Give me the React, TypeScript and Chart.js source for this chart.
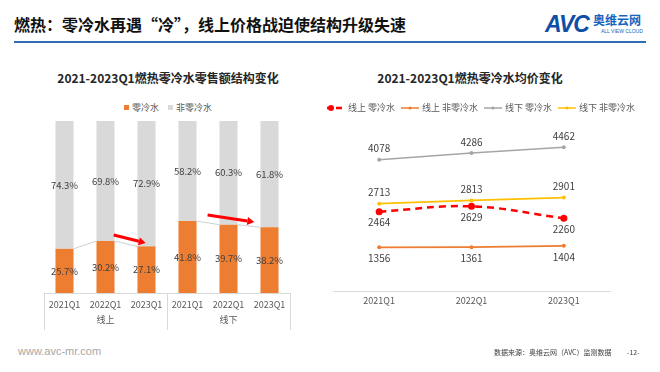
import React, { useEffect, useRef } from 'react';
import { Chart, registerables } from 'chart.js';

Chart.register(...registerables);

const FONT = '"Noto Sans CJK SC", "Noto Sans", sans-serif';

// ---- Left chart data (share of retail sales, %) ----
const shareCategories = ['2021Q1', '2022Q1', '2023Q1', '2021Q1', '2022Q1', '2023Q1'];
const shareGroups = ['线上', '线下'];
const shareGroupSizes = [3, 3];
const zeroColdShare = [25.7, 30.2, 27.1, 41.8, 39.7, 38.2];
const nonZeroColdShare = [74.3, 69.8, 72.9, 58.2, 60.3, 61.8];
// arrows in data units: [fromIndex, fromValue, toIndex, toValue]
const shareArrows = [
  [1.2, 33.7, 1.98, 29.1],
  [3.49, 45.3, 4.63, 41.3],
];

// ---- Right chart data (average price) ----
const priceCategories = ['2021Q1', '2022Q1', '2023Q1'];
const onlineZeroPrice = [2464, 2629, 2260];
const onlineNonZeroPrice = [1356, 1361, 1404];
const offlineZeroPrice = [4078, 4286, 4462];
const offlineNonZeroPrice = [2713, 2813, 2901];

const ORANGE = '#ED7D31';
const GRAY_BAR = '#D9D9D9';
const RED = '#FF0000';
const GRAY_LINE = '#A5A5A5';
const YELLOW = '#FFC000';

function ShareChart() {
  const ref = useRef<HTMLCanvasElement>(null);
  useEffect(() => {
    const canvas = ref.current;
    if (!canvas) return;
    const labels = shareCategories.map((c, i) => {
      let start = 0;
      for (let g = 0; g < shareGroupSizes.length; g++) {
        const mid = start + Math.floor(shareGroupSizes[g] / 2);
        if (i === mid) return [c, shareGroups[g]];
        start += shareGroupSizes[g];
      }
      return [c, ''];
    });
    const decor = {
      id: 'shareDecor',
      afterDatasetsDraw(chart: any) {
        const ctx = chart.ctx;
        const xs = chart.scales.x;
        const ys = chart.scales.y;
        const area = chart.chartArea;
        ctx.save();
        // series lines between orange bars inside each group
        const meta0 = chart.getDatasetMeta(0);
        const boundaries: number[] = [];
        let acc = 0;
        shareGroupSizes.forEach((s) => { acc += s; boundaries.push(acc - 1); });
        ctx.strokeStyle = '#D0D0D0';
        ctx.lineWidth = 1;
        for (let i = 0; i < meta0.data.length - 1; i++) {
          if (boundaries.includes(i)) continue;
          const a = meta0.data[i] as any;
          const b = meta0.data[i + 1] as any;
          ctx.beginPath();
          ctx.moveTo(a.x + a.width / 2, a.y);
          ctx.lineTo(b.x - b.width / 2, b.y);
          ctx.stroke();
        }
        // data labels
        ctx.font = `9.5px ${FONT}`;
        ctx.fillStyle = '#404040';
        ctx.textAlign = 'center';
        ctx.textBaseline = 'middle';
        chart.data.datasets.forEach((ds: any, di: number) => {
          const meta = chart.getDatasetMeta(di);
          meta.data.forEach((el: any, i: number) => {
            const v = ds.data[i];
            ctx.fillText(v.toFixed(1) + '%', el.x, (el.y + el.base) / 2);
          });
        });
        // arrows
        shareArrows.forEach(([fi, fv, ti, tv]) => {
          const x1 = xs.getPixelForValue(fi);
          const y1 = ys.getPixelForValue(fv);
          const x2 = xs.getPixelForValue(ti);
          const y2 = ys.getPixelForValue(tv);
          const ang = Math.atan2(y2 - y1, x2 - x1);
          const head = 7;
          const bx = x2 - head * Math.cos(ang);
          const by = y2 - head * Math.sin(ang);
          ctx.strokeStyle = RED;
          ctx.fillStyle = RED;
          ctx.lineWidth = 3;
          ctx.beginPath();
          ctx.moveTo(x1, y1);
          ctx.lineTo(bx, by);
          ctx.stroke();
          ctx.beginPath();
          ctx.moveTo(x2, y2);
          ctx.lineTo(bx + 4 * Math.sin(ang), by - 4 * Math.cos(ang));
          ctx.lineTo(bx - 4 * Math.sin(ang), by + 4 * Math.cos(ang));
          ctx.closePath();
          ctx.fill();
        });
        // group separators below axis
        ctx.strokeStyle = '#D9D9D9';
        ctx.lineWidth = 1;
        const sepX: number[] = [area.left];
        let k = 0;
        shareGroupSizes.forEach((s, g) => {
          k += s;
          if (g < shareGroupSizes.length - 1) {
            sepX.push((xs.getPixelForTick(k - 1) + xs.getPixelForTick(k)) / 2);
          }
        });
        sepX.push(area.right);
        sepX.forEach((sx) => {
          const px = Math.round(sx) + 0.5;
          ctx.beginPath();
          ctx.moveTo(px, area.bottom);
          ctx.lineTo(px, area.bottom + 37);
          ctx.stroke();
        });
        ctx.restore();
      },
    };
    const chart = new Chart(canvas, {
      type: 'bar',
      data: {
        labels,
        datasets: [
          { label: '零冷水', data: zeroColdShare, backgroundColor: ORANGE, barPercentage: 0.44, categoryPercentage: 1 },
          { label: '非零冷水', data: nonZeroColdShare, backgroundColor: GRAY_BAR, barPercentage: 0.44, categoryPercentage: 1 },
        ],
      },
      options: {
        animation: false,
        responsive: false,
        layout: { padding: { left: 44, right: 40, top: 11, bottom: 0 } },
        plugins: { legend: { display: false }, tooltip: { enabled: false } },
        scales: {
          x: {
            stacked: true,
            grid: { display: false },
            border: { display: true, color: '#D9D9D9' },
            ticks: { font: { family: FONT, size: 9, lineHeight: 1.7 }, color: '#595959', padding: -4, maxRotation: 0, autoSkip: false },
            afterFit: (s: any) => { s.height = 47; },
          },
          y: { stacked: true, min: 0, max: 100, display: false },
        },
      },
      plugins: [decor],
    });
    return () => chart.destroy();
  }, []);
  return <canvas ref={ref} width={330} height={230} style={{ position: 'absolute', left: 0, top: 110, width: 330, height: 230 }} />;
}

function PriceChart() {
  const ref = useRef<HTMLCanvasElement>(null);
  useEffect(() => {
    const canvas = ref.current;
    if (!canvas) return;
    const labelPos = ['below', 'below', 'above', 'above'];
    const decor = {
      id: 'priceLabels',
      afterDatasetsDraw(chart: any) {
        const ctx = chart.ctx;
        ctx.save();
        ctx.font = `10px ${FONT}`;
        ctx.fillStyle = '#404040';
        ctx.textAlign = 'center';
        ctx.textBaseline = 'middle';
        chart.data.datasets.forEach((ds: any, di: number) => {
          const meta = chart.getDatasetMeta(di);
          meta.data.forEach((el: any, i: number) => {
            const dy = labelPos[di] === 'above' ? -11 : 11;
            ctx.fillText(String(ds.data[i]), el.x, el.y + dy);
          });
        });
        ctx.restore();
      },
    };
    const chart = new Chart(canvas, {
      type: 'line',
      data: {
        labels: priceCategories,
        datasets: [
          { label: '线上 零冷水', data: onlineZeroPrice, borderColor: RED, backgroundColor: RED, borderWidth: 2.5, borderDash: [7, 5], tension: 0.4, pointRadius: 3.5, pointBackgroundColor: RED, pointBorderWidth: 0 },
          { label: '线上 非零冷水', data: onlineNonZeroPrice, borderColor: ORANGE, backgroundColor: ORANGE, borderWidth: 1.8, pointRadius: 2, pointBorderWidth: 0 },
          { label: '线下 零冷水', data: offlineZeroPrice, borderColor: GRAY_LINE, backgroundColor: GRAY_LINE, borderWidth: 1.5, pointRadius: 2, pointBorderWidth: 0 },
          { label: '线下 非零冷水', data: offlineNonZeroPrice, borderColor: YELLOW, backgroundColor: YELLOW, borderWidth: 1.8, pointRadius: 2, pointBorderWidth: 0 },
        ],
      },
      options: {
        animation: false,
        responsive: false,
        layout: { padding: { left: 13, right: 50, top: 20, bottom: 0 } },
        plugins: { legend: { display: false }, tooltip: { enabled: false } },
        scales: {
          x: {
            offset: true,
            grid: { display: false },
            border: { display: true, color: '#D9D9D9' },
            ticks: { font: { family: FONT, size: 9 }, color: '#595959', padding: -4 },
            afterFit: (s: any) => { s.height = 49; },
          },
          y: { min: 0, max: 5000, display: false },
        },
      },
      plugins: [decor],
    });
    return () => chart.destroy();
  }, []);
  return <canvas ref={ref} width={340} height={230} style={{ position: 'absolute', left: 320, top: 110, width: 340, height: 230 }} />;
}

function LineKey({ color, dashed, big }: { color: string; dashed?: boolean; big?: boolean }) {
  return (
    <svg width={20} height={8} style={{ display: 'inline-block', verticalAlign: 'middle', marginRight: 2 }}>
      <line x1={1} y1={4} x2={19} y2={4} stroke={color} strokeWidth={dashed ? 2.5 : 1.5} strokeDasharray={dashed ? '6 3' : undefined} />
      <circle cx={dashed ? 5 : 10} cy={4} r={big ? 3 : 1.6} fill={color} />
    </svg>
  );
}

export default function App() {
  useEffect(() => {
    document.body.style.margin = '0';
  }, []);
  const abs = (s: React.CSSProperties): React.CSSProperties => ({ position: 'absolute', ...s });
  const legendText: React.CSSProperties = { fontSize: 9, color: '#595959', verticalAlign: 'middle' };
  return (
    <div style={{ position: 'fixed', left: 0, top: 0, width: 660, height: 372, background: '#fff', overflow: 'hidden', fontFamily: FONT }}>
      <div style={abs({ left: 14, top: 13, fontSize: 16, fontWeight: 700, color: '#111', lineHeight: '22px', whiteSpace: 'nowrap' })}>
        燃热：零冷水再遇“冷”，线上价格战迫使结构升级失速
      </div>
      <div style={abs({ left: 545, top: 11, whiteSpace: 'nowrap' })}>
        <span style={{ fontFamily: '"Liberation Sans", sans-serif', fontWeight: 900, fontStyle: 'italic', fontSize: 23, color: '#0E4EA8', letterSpacing: -1 }}>AVC</span>
      </div>
      <div style={abs({ left: 593, top: 13, fontSize: 12, fontWeight: 700, color: '#1565C0', lineHeight: '14px', whiteSpace: 'nowrap' })}>奥维云网</div>
      <div style={abs({ left: 601, top: 28, fontSize: 5, color: '#1565C0', lineHeight: '6px', whiteSpace: 'nowrap', fontFamily: '"Liberation Sans", sans-serif' })}>ALL VIEW CLOUD</div>
      <div style={abs({ left: 14, top: 41, width: 632, height: 2, background: '#2E6DB4' })} />

      <div style={abs({ left: 0, top: 69, width: 336, textAlign: 'center', fontSize: 12, fontWeight: 700, color: '#262626', lineHeight: '18px' })}>
        2021-2023Q1燃热零冷水零售额结构变化
      </div>
      <div style={abs({ left: 0, top: 99, width: 336, textAlign: 'center', lineHeight: '12px', whiteSpace: 'nowrap' })}>
        <span style={{ display: 'inline-block', width: 5, height: 5, background: ORANGE, verticalAlign: 'middle', marginRight: 3 }} />
        <span style={legendText}>零冷水</span>
        <span style={{ display: 'inline-block', width: 5, height: 5, background: GRAY_BAR, verticalAlign: 'middle', marginLeft: 9, marginRight: 3 }} />
        <span style={legendText}>非零冷水</span>
      </div>
      <ShareChart />

      <div style={abs({ left: 320, top: 69, width: 300, textAlign: 'center', fontSize: 12, fontWeight: 700, color: '#262626', lineHeight: '18px' })}>
        2021-2023Q1燃热零冷水均价变化
      </div>
      <div style={abs({ left: 326, top: 99, lineHeight: '12px', whiteSpace: 'nowrap' })}>
        <LineKey color={RED} dashed big />
        <span style={legendText}>线上 零冷水</span>
        <span style={{ marginLeft: 5 }} />
        <LineKey color={ORANGE} />
        <span style={legendText}>线上 非零冷水</span>
        <span style={{ marginLeft: 5 }} />
        <LineKey color={GRAY_LINE} />
        <span style={legendText}>线下 零冷水</span>
        <span style={{ marginLeft: 5 }} />
        <LineKey color={YELLOW} />
        <span style={legendText}>线下 非零冷水</span>
      </div>
      <PriceChart />

      <div style={abs({ left: 18, top: 344, fontSize: 11, color: '#A6A6A6', fontFamily: '"Liberation Sans", sans-serif', lineHeight: '14px' })}>www.avc-mr.com</div>
      <div style={abs({ left: 494, top: 347, fontSize: 7, color: '#404040', lineHeight: '10px', whiteSpace: 'nowrap' })}>数据来源：奥维云网（AVC）监测数据</div>
      <div style={abs({ left: 627, top: 347, fontSize: 7, color: '#404040', lineHeight: '10px', whiteSpace: 'nowrap' })}>-12-</div>
    </div>
  );
}
